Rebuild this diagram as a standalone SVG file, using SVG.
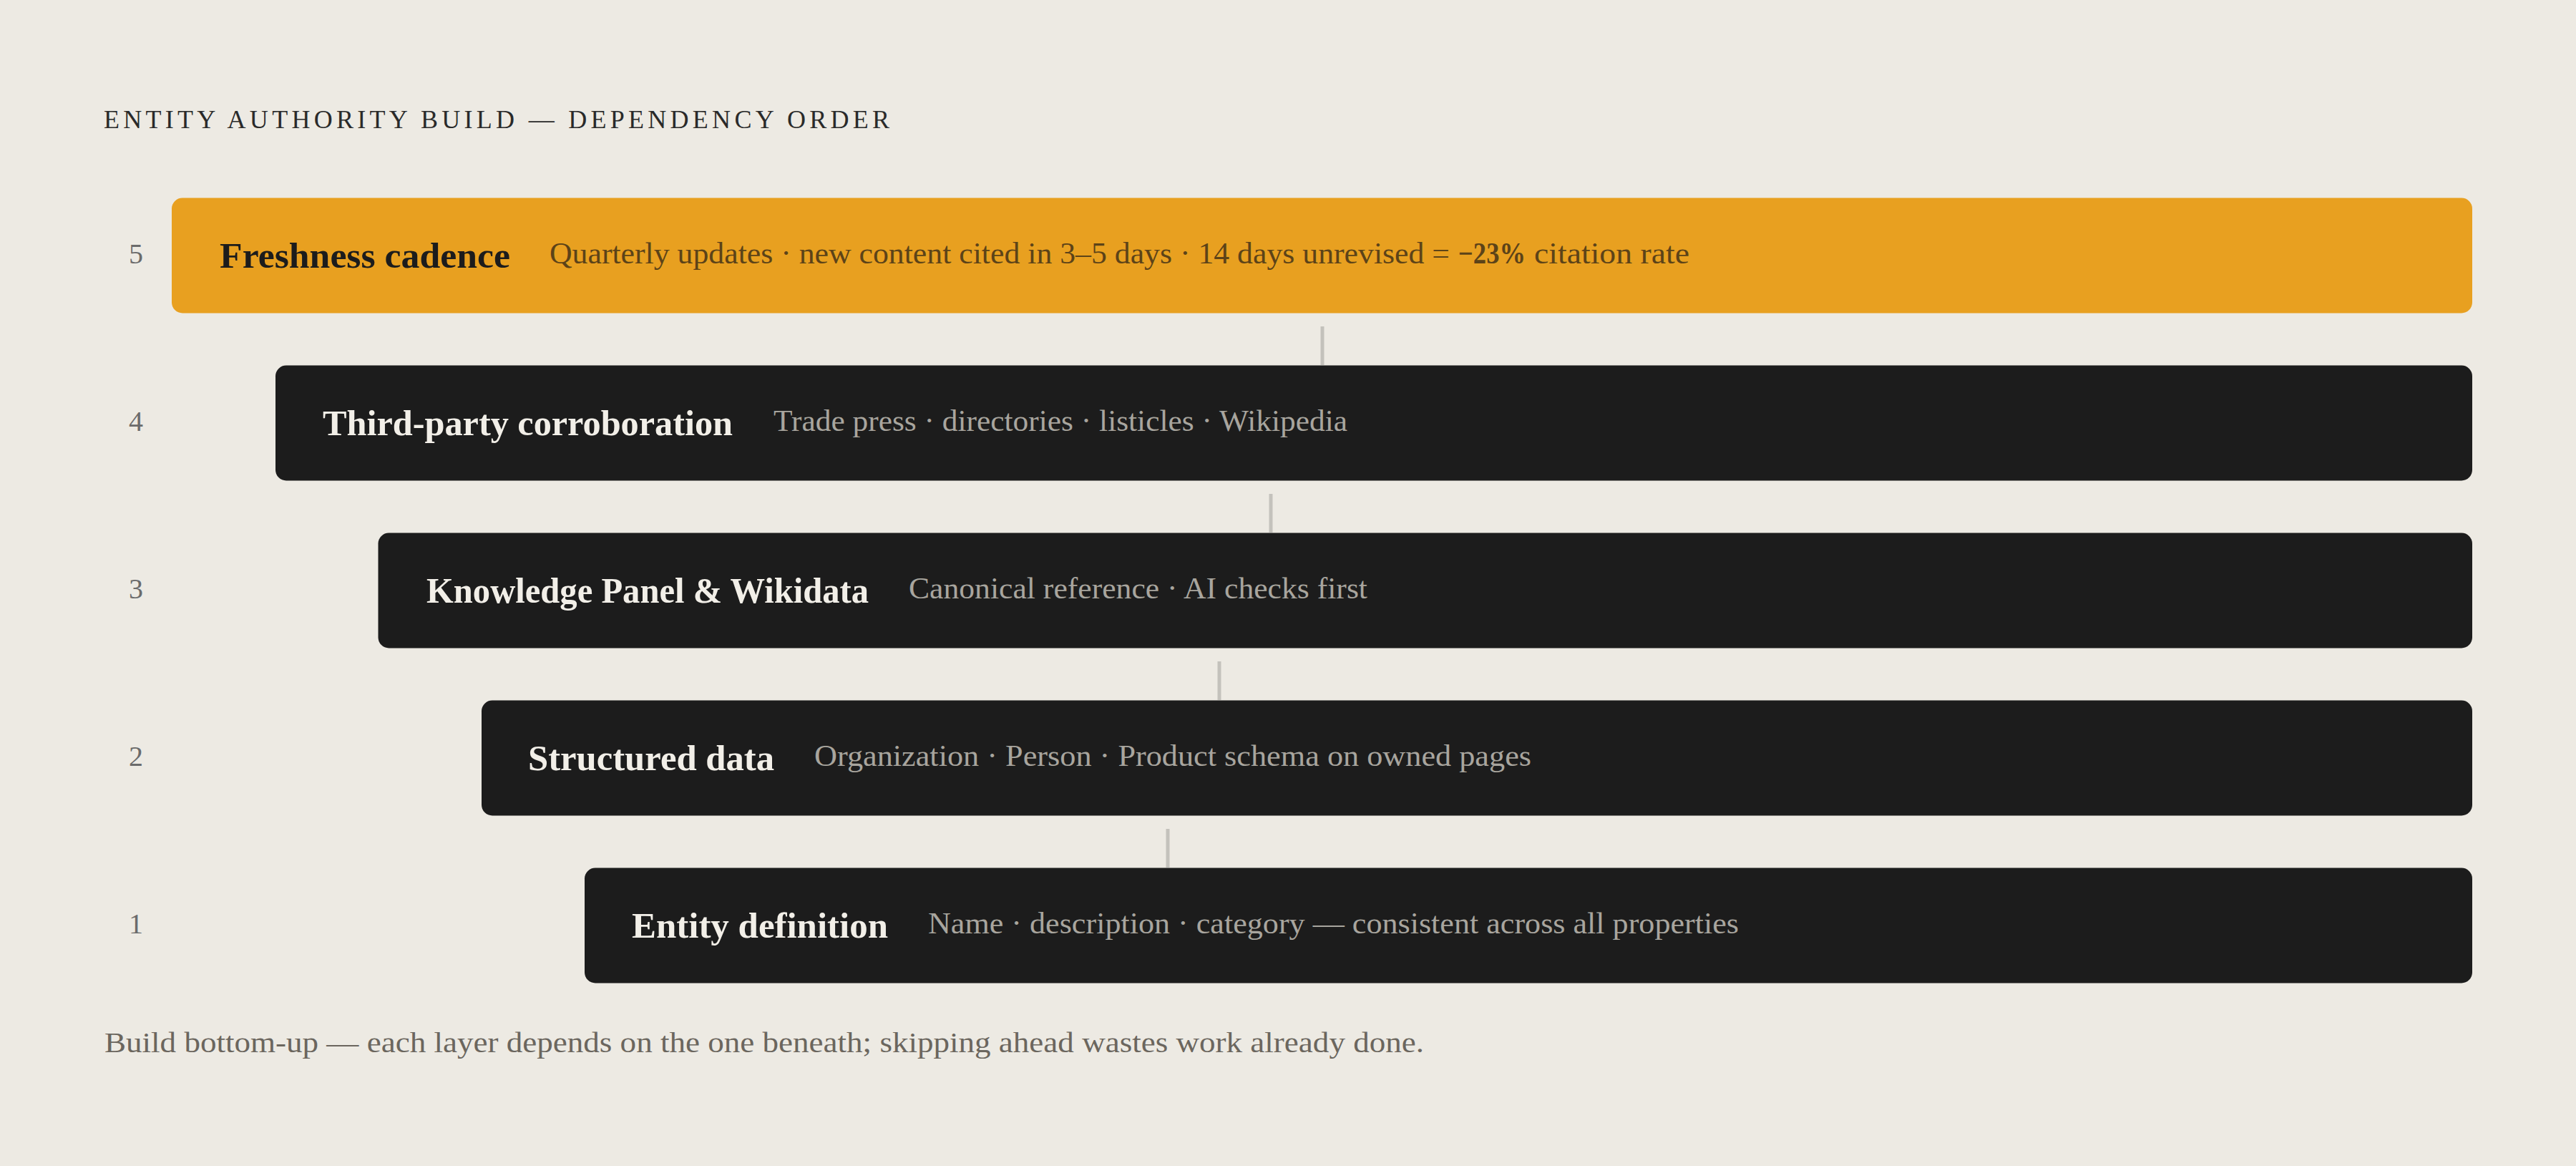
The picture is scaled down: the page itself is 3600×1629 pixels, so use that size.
<svg xmlns="http://www.w3.org/2000/svg" width="3600" height="1629" viewBox="0 0 3600 1629">
<style>
.bg{fill:#edeae3}
.title{font-family:"Liberation Serif",serif;font-size:36px;fill:#2a2a2a}
.num{font-family:"Liberation Serif",serif;font-size:40px;fill:#6b6b6b;text-anchor:middle}
.bar{fill:#1c1c1c}
.bar.hl{fill:#e8a020}
.name{font-family:"Liberation Serif",serif;font-size:50px;font-weight:bold;fill:#f2efe8}
.desc{font-family:"Liberation Serif",serif;font-size:42px;fill:#a8a59e}
.hl-name{fill:#1c1c1c}
.hl-desc{fill:#5c4318}
.b{font-weight:bold}
.conn line{stroke:#c4c2bc;stroke-width:5}
.foot{font-family:"Liberation Serif",serif;font-size:39px;fill:#6b665e}
</style>
<rect class="bg" x="0" y="0" width="3600" height="1629"/>
<text class="title" x="145" y="179" textLength="1098" lengthAdjust="spacing">ENTITY AUTHORITY BUILD — DEPENDENCY ORDER</text>

<g id="connectors" class="conn">
<line x1="1848" y1="456" x2="1848" y2="510"/>
<line x1="1776" y1="690" x2="1776" y2="744"/>
<line x1="1704" y1="924" x2="1704" y2="978"/>
<line x1="1632" y1="1158" x2="1632" y2="1212"/>
</g>

<g id="layer5">
<text class="num" x="190" y="368">5</text>
<rect class="bar hl" x="240" y="276.5" width="3215" height="161" rx="15"/>
<text class="name hl-name" x="307" y="374" textLength="406" lengthAdjust="spacingAndGlyphs">Freshness cadence</text>
<text class="desc hl-desc" y="368"><tspan x="768" textLength="1258" lengthAdjust="spacingAndGlyphs">Quarterly updates · new content cited in 3–5 days · 14 days unrevised =</tspan><tspan class="b" x="2038" textLength="94" lengthAdjust="spacingAndGlyphs">−23%</tspan><tspan x="2144" textLength="217" lengthAdjust="spacingAndGlyphs">citation rate</tspan></text>
</g>

<g id="layer4">
<text class="num" x="190" y="602">4</text>
<rect class="bar" x="385" y="510.5" width="3070" height="161" rx="15"/>
<text class="name" x="451" y="608" textLength="573" lengthAdjust="spacingAndGlyphs">Third-party corroboration</text>
<text class="desc" x="1081" y="602" textLength="802" lengthAdjust="spacingAndGlyphs">Trade press · directories · listicles · Wikipedia</text>
</g>

<g id="layer3">
<text class="num" x="190" y="836">3</text>
<rect class="bar" x="528.5" y="744.5" width="2926.5" height="161" rx="15"/>
<text class="name" x="596" y="842" textLength="618" lengthAdjust="spacingAndGlyphs">Knowledge Panel &amp; Wikidata</text>
<text class="desc" x="1270" y="836" textLength="641" lengthAdjust="spacingAndGlyphs">Canonical reference · AI checks first</text>
</g>

<g id="layer2">
<text class="num" x="190" y="1070">2</text>
<rect class="bar" x="673" y="978.5" width="2782" height="161" rx="15"/>
<text class="name" x="738" y="1076" textLength="344" lengthAdjust="spacingAndGlyphs">Structured data</text>
<text class="desc" x="1138" y="1070" textLength="1002" lengthAdjust="spacingAndGlyphs">Organization · Person · Product schema on owned pages</text>
</g>

<g id="layer1">
<text class="num" x="190" y="1304">1</text>
<rect class="bar" x="817" y="1212.5" width="2638" height="161" rx="15"/>
<text class="name" x="883" y="1310" textLength="358" lengthAdjust="spacingAndGlyphs">Entity definition</text>
<text class="desc" x="1297" y="1304" textLength="1133" lengthAdjust="spacingAndGlyphs">Name · description · category — consistent across all properties</text>
</g>

<text class="foot" x="146" y="1470" textLength="1844" lengthAdjust="spacingAndGlyphs">Build bottom-up — each layer depends on the one beneath; skipping ahead wastes work already done.</text>
</svg>
